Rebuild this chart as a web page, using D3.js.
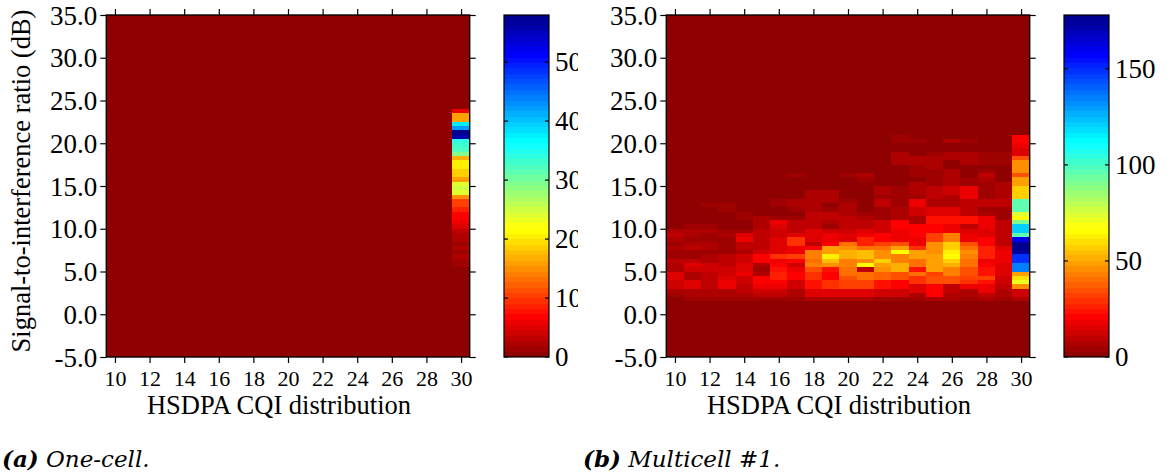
<!DOCTYPE html>
<html><head><meta charset="utf-8">
<script src="https://cdn.jsdelivr.net/npm/d3@7/dist/d3.min.js"></script>
<style>
html,body{margin:0;padding:0;background:#fff;}
svg{display:block;font-family:"Liberation Serif","Times New Roman",serif;}
</style></head><body>
<svg id="chart" width="1172" height="473"></svg>
<script>
// ---------------- data ----------------
const cqiCategories = [10,11,12,13,14,15,16,17,18,19,20,21,22,23,24,25,26,27,28,29,30];
const xTickValues = [10,12,14,16,18,20,22,24,26,28,30];
const yTickValues = [-5,0,5,10,15,20,25,30,35];
const oneCellColorbarTicks = [0,10,20,30,40,50];
const multicellColorbarTicks = [0,50,100,150];

// lower edges of 0.5 dB SIR bins (dB)
const oneCellSirBins = [5.5,6,6.5,7,7.5,8,8.5,9,9.5,10,10.5,11,11.5,12,12.5,13,13.5,14,14.5,15,15.5,16,16.5,17,17.5,18,18.5,19,19.5,20,20.5,21,21.5,22,22.5,23,23.5];
const multicellSirBins = [1.5,2,2.5,3,3.5,4,4.5,5,5.5,6,6.5,7,7.5,8,8.5,9,9.5,10,10.5,11,11.5,12,12.5,13,13.5,14,14.5,15,15.5,16,16.5,17,17.5,18,18.5,19,19.5,20,20.5];

// One-cell: only CQI 30 has samples (other CQI columns are zero)
const oneCellCQI = 30;
const oneCellCounts = [1,1,2,1,2,1,2,2,3,5,6,7,7,9,10,10,15,24,25,24,16,19,19,20,20,17,29,32,33,34,56,58,42,38,16,16,6];

// Multicell #1: one array per CQI column (10..30), bottom bin first
const multicellCounts = [
  [2,5,6,12,12,15,14,7,8,9,5,4,6,5,8,9,6,2, 1,0,1,0,0,0,0,0,0,0,0,0,0,0,0,0,0,0,0,0,0],
  [3,7,8,15,16,8,7,12,16,10,5,4,9,6,5,7,6,4, 1,1,0,0,1,0,0,0,0,0,0,0,0,0,0,0,0,0,0,0,0],
  [3,6,6,11,11,9,9,12,12,6,6,3,7,8,5,4,7,5, 1,0,1,0,5,1,0,0,0,0,0,0,0,0,0,0,0,0,0,0,0],
  [3,7,8,17,18,16,13,12,9,10,11,4,4,5,5,7,5,1, 1,0,1,4,4,1,0,0,0,0,0,0,0,0,0,0,0,0,0,0,0],
  [4,7,9,11,12,13,17,16,14,13,13,8,9,10,18,14,5,2, 1,4,3,1,0,0,0,0,0,0,0,0,0,0,0,0,0,0,0,0,0],
  [5,10,12,18,21,20,8,4,8,22,22,12,10,11,10,9,9,8, 7,6,2,1,0,0,0,0,0,0,0,0,0,0,0,0,0,0,0,0,0],
  [5,10,12,19,20,26,26,25,20,19,30,15,15,16,14,12,12,14, 17,3,1,1,5,5,1,0,0,0,0,0,0,0,0,0,0,0,0,0,0],
  [3,8,8,13,13,20,20,18,13,20,33,17,17,28,28,15,9,9, 9,4,1,5,6,6,0,0,0,0,0,3,0,0,0,0,0,0,0,0,0],
  [6,16,16,24,24,28,30,36,42,40,44,42,20,11,16,16,14,11, 9,9,9,6,6,8,8,8,2,0,0,0,0,0,0,0,0,0,0,0,0],
  [6,16,16,30,30,22,22,24,47,55,62,50,50,20,18,17,12,5, 6,10,10,3,1,7,7,7,0,0,0,0,0,0,0,0,0,0,0,0,0],
  [6,16,16,31,31,36,40,40,42,44,52,52,46,40,16,16,13,10, 10,10,8,6,6,5,0,0,0,0,0,4,0,0,0,0,0,0,0,0,0],
  [6,15,15,32,32,40,40,10,64,45,54,54,40,26,26,18,14,10, 10,6,3,2,1,1,1,1,1,1,3,6,1,0,0,0,0,0,0,0,0],
  [5,13,13,24,24,37,37,46,50,56,46,46,40,32,20,20,12,12, 12,4,3,4,11,11,5,6,6,2,1,0,0,0,0,0,0,0,0,0,0],
  [5,13,13,22,22,36,36,52,52,44,44,64,50,36,18,18,18,22, 22,8,6,6,5,4,3,4,3,2,2,2,1,2,6,6,6,2,1,5,5],
  [4,8,16,16,28,28,40,25,40,40,50,50,30,18,18,20,22,22, 8,8,12,12,17,17,4,8,8,8,2,3,3,4,7,7,2,1,2,4,1],
  [8,22,22,22,36,36,32,50,50,50,48,46,46,46,32,32,21,21, 23,23,14,14,6,6,10,10,10,3,3,5,3,6,6,6,4,1,0,0,0],
  [6,8,10,10,34,34,42,42,52,56,66,62,57,57,42,42,19,19, 24,24,16,16,8,8,8,12,12,6,6,6,6,2,2,7,7,1,2,6,2],
  [5,8,8,19,28,32,36,36,40,40,44,46,40,34,19,19,15,11, 24,24,9,9,10,10,18,18,18,5,4,2,2,2,8,8,8,2,1,3,1],
  [6,9,19,19,25,33,24,24,20,19,26,26,26,21,21,16,14,17, 19,19,6,5,9,9,5,4,4,3,6,10,3,2,4,5,5,1,0,0,0],
  [3,7,7,10,13,13,16,16,16,17,17,17,14,11,11,11,11,9, 9,4,3,3,9,9,8,8,8,8,2,1,1,1,5,5,5,1,0,0,0],
  [8,12,12,46,72,60,50,134,134,150,150,175,176,178,160,97,122,122, 89,64,75,97,97,95,58,58,58,48,48,36,46,46,46,34,16,16,18,20,22]
];

const yAxisTitle = "Signal-to-interference ratio (dB)";
const xAxisTitle = "HSDPA CQI distribution";

// ---------------- colormap (MATLAB jet, 64 levels, flipped) ----------------
function matlabJet(m){
  const n = Math.max(Math.round(m/4),1);
  const x = d3.range(1,n+1).map(i=>i/n);
  const y = d3.range(n/2,n+1).map(i=>i/n);
  const e = x.map(()=>1), zx = x.map(()=>0), zy = y.map(()=>0);
  const fx = x.slice().reverse(), fy = y.slice().reverse();
  let r = [...zy,...zx,...x,...e,...fy];
  let g = [...zy,...x,...e,...fx,...zy];
  let b = [...y,...e,...fx,...zx,...zy];
  let J = r.map((v,i)=>[v,g[i],b[i]]);
  while (J.length > m){ J.shift(); if (J.length > m) J.pop(); }
  return J;
}
const cmap = matlabJet(64).reverse().map(c=>d3.rgb(Math.round(c[0]*255),Math.round(c[1]*255),Math.round(c[2]*255)).toString());

// ---------------- drawing ----------------
const svg = d3.select("#chart");
const SERIF = '"Liberation Serif","Times New Roman",serif';
const FONT_TICK_Y = 27, FONT_TICK_X = 22, FONT_TITLE = 26.5;
const fmtY = v => d3.format(".1f")(v).replace("\u2212","-");

function drawPanel(opt){
  const {left, right, top, bottom, cbLeft, cbRight, columns, vmax, cbTicks, clipRight, id} = opt;
  const x = d3.scaleLinear().domain([9.5,30.5]).range([left,right]);
  const y = d3.scaleLinear().domain([-5,35]).range([bottom,top]);
  const color = d3.scaleQuantize().domain([0,vmax]).range(cmap);
  const g = svg.append("g").attr("font-family",SERIF);

  // zero-count background
  g.append("rect").attr("x",left).attr("y",top).attr("width",right-left).attr("height",bottom-top).attr("fill",color(0));

  const cells = [];
  columns.forEach(col=>{
    col.counts.forEach((v,i)=>{ cells.push({cqi:col.cqi, sir:col.bins[i], v}); });
  });
  g.append("g").attr("shape-rendering","crispEdges").selectAll("rect").data(cells).join("rect")
    .attr("x",d=>x(d.cqi-0.5)).attr("width",d=>x(d.cqi+0.5)-x(d.cqi-0.5))
    .attr("y",d=>y(d.sir+0.5)).attr("height",d=>y(d.sir)-y(d.sir+0.5))
    .attr("fill",d=>color(d.v));

  // axes
  const ax = (gen, tr)=> g.append("g").attr("transform",tr).call(gen).attr("font-family",SERIF);
  const bottomAx = ax(d3.axisBottom(x).tickValues(xTickValues).tickSize(6).tickSizeOuter(0), `translate(0,${bottom})`);
  bottomAx.selectAll("text").attr("y",29).attr("dy",null).attr("font-size",FONT_TICK_X).attr("fill","#000").attr("font-family",SERIF);
  const leftAx = ax(d3.axisLeft(y).tickValues(yTickValues).tickFormat(fmtY).tickSize(6).tickSizeOuter(0).tickPadding(3), `translate(${left},0)`);
  leftAx.selectAll("text").attr("font-size",FONT_TICK_Y).attr("dy","0.34em").attr("fill","#000").attr("font-family",SERIF);
  ax(d3.axisTop(x).tickValues(xTickValues).tickFormat("").tickSize(6).tickSizeOuter(0), `translate(0,${top})`);
  ax(d3.axisRight(y).tickValues(yTickValues).tickFormat("").tickSize(6).tickSizeOuter(0), `translate(${right},0)`);
  g.selectAll(".domain").remove();
  g.selectAll(".tick line").attr("stroke","#000").attr("stroke-width",1.2);
  g.append("rect").attr("x",left).attr("y",top).attr("width",right-left).attr("height",bottom-top)
    .attr("fill","none").attr("stroke","#000").attr("stroke-width",1.4);

  // axis titles
  g.append("text").attr("x",(left+right)/2-9).attr("y",414).attr("text-anchor","middle")
    .attr("font-size",FONT_TITLE).attr("fill","#000").text(xAxisTitle);
  if (opt.showYTitle){
    g.append("text").attr("transform",`translate(30,${(top+bottom)/2-5}) rotate(-90)`).attr("text-anchor","middle")
      .attr("font-size",26.5).attr("fill","#000").text(yAxisTitle);
  }

  // colorbar
  const cy = d3.scaleLinear().domain([0,vmax]).range([bottom,top]);
  const step = vmax/cmap.length;
  const cb = g.append("g").attr("shape-rendering","crispEdges");
  cb.selectAll("rect").data(cmap).join("rect")
    .attr("x",cbLeft).attr("width",cbRight-cbLeft)
    .attr("y",(c,i)=>cy((i+1)*step)).attr("height",(c,i)=>cy(i*step)-cy((i+1)*step))
    .attr("fill",c=>c);
  g.append("rect").attr("x",cbLeft).attr("y",top).attr("width",cbRight-cbLeft).attr("height",bottom-top)
    .attr("fill","none").attr("stroke","#000").attr("stroke-width",1.2);
  const tk = g.append("g");
  cbTicks.forEach(t=>{
    tk.append("line").attr("x1",cbLeft).attr("x2",cbLeft+4).attr("y1",cy(t)).attr("y2",cy(t)).attr("stroke","#000").attr("stroke-width",1.2);
    tk.append("line").attr("x1",cbRight-4).attr("x2",cbRight).attr("y1",cy(t)).attr("y2",cy(t)).attr("stroke","#000").attr("stroke-width",1.2);
  });
  const clipId = "clip"+id;
  svg.append("clipPath").attr("id",clipId).append("rect").attr("x",0).attr("y",0).attr("width",clipRight).attr("height",473);
  g.append("g").attr("clip-path",`url(#${clipId})`).selectAll("text").data(cbTicks).join("text")
    .attr("x",cbRight+6).attr("y",d=>cy(d)).attr("dy","0.34em").attr("font-size",FONT_TICK_Y).attr("fill","#000")
    .text(d=>d);
}

drawPanel({
  id:"a", left:106.3, right:469.7, top:15, bottom:357, cbLeft:504, cbRight:549,
  columns:[{cqi:oneCellCQI, bins:oneCellSirBins, counts:oneCellCounts}],
  vmax: d3.max(oneCellCounts), cbTicks: oneCellColorbarTicks, clipRight:578, showYTitle:true
});
drawPanel({
  id:"b", left:666.3, right:1029.7, top:15, bottom:357, cbLeft:1064, cbRight:1109,
  columns: multicellCounts.map((c,i)=>({cqi:cqiCategories[i], bins:multicellSirBins, counts:c})),
  vmax: d3.max(multicellCounts.flat()), cbTicks: multicellColorbarTicks, clipRight:1172, showYTitle:false
});

// captions
function caption(xp, tag, label){
  const t = svg.append("text").attr("x",xp).attr("y",467).attr("font-size",23)
    .attr("font-family",'"DejaVu Serif",serif').attr("font-style","italic").attr("fill","#000");
  t.append("tspan").attr("font-weight","bold").text(tag);
  t.append("tspan").text(" " + label);
}
caption(2, "(a)", "One-cell.");
caption(583, "(b)", "Multicell #1.");
</script>
</body></html>
